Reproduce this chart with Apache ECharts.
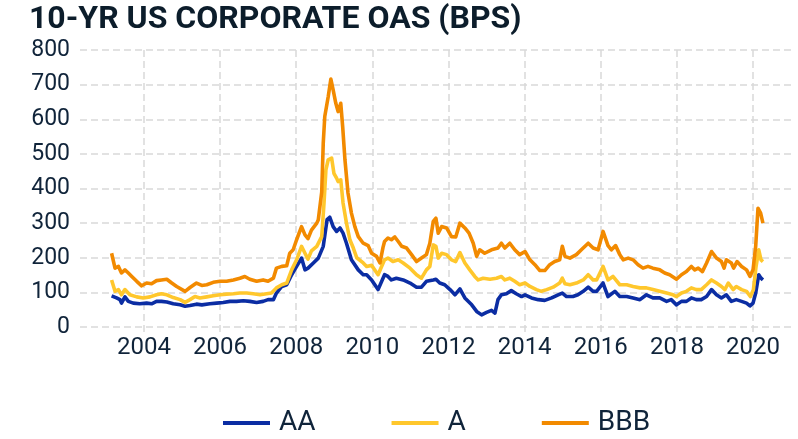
<!DOCTYPE html>
<html>
<head>
<meta charset="utf-8">
<title>10-YR US Corporate OAS</title>
<script src="https://cdn.jsdelivr.net/npm/echarts@6/dist/echarts.min.js"></script>
<style>
  html, body { margin: 0; padding: 0; background: #ffffff; }
  #chart { width: 798px; height: 439px; }
</style>
</head>
<body>
<div id="chart"></div>
<script>
// Option-adjusted spreads (bps) by rating bucket, [decimal year, spread]
const aaSeries = [
  [2003.15, 90], [2003.28, 84], [2003.37, 79], [2003.41, 69], [2003.50, 87], [2003.59, 74],
  [2003.72, 69], [2003.89, 67], [2004.07, 69], [2004.20, 67], [2004.33, 74], [2004.46, 74],
  [2004.60, 72], [2004.77, 67], [2004.95, 64], [2005.08, 60], [2005.21, 62], [2005.38, 66],
  [2005.52, 64], [2005.73, 67], [2005.91, 69], [2006.08, 71], [2006.26, 74], [2006.43, 74],
  [2006.61, 76], [2006.78, 74], [2006.96, 71], [2007.13, 74], [2007.26, 79], [2007.40, 79],
  [2007.48, 98], [2007.62, 117], [2007.75, 122], [2007.88, 151], [2008.01, 175], [2008.14, 199],
  [2008.23, 165], [2008.31, 170], [2008.45, 185], [2008.58, 199], [2008.71, 233], [2008.81, 310],
  [2008.88, 317], [2008.97, 290], [2009.06, 276], [2009.15, 286], [2009.23, 271], [2009.32, 242],
  [2009.45, 194], [2009.63, 165], [2009.76, 151], [2009.85, 151], [2009.98, 136], [2010.15, 108],
  [2010.20, 103], [2010.32, 151], [2010.41, 146], [2010.50, 136], [2010.63, 141], [2010.81, 136],
  [2010.99, 127], [2011.16, 115], [2011.29, 115], [2011.42, 132], [2011.60, 136], [2011.67, 138],
  [2011.77, 127], [2011.90, 122], [2012.04, 108], [2012.17, 93], [2012.30, 110], [2012.43, 84],
  [2012.61, 64], [2012.74, 45], [2012.87, 35], [2013.00, 42], [2013.13, 48], [2013.22, 40],
  [2013.30, 79], [2013.39, 93], [2013.52, 96], [2013.65, 105], [2013.78, 96], [2013.92, 88],
  [2014.01, 93], [2014.18, 84], [2014.36, 79], [2014.53, 77], [2014.71, 84], [2014.88, 93],
  [2014.99, 98], [2015.10, 88], [2015.27, 88], [2015.40, 93], [2015.54, 103], [2015.67, 115],
  [2015.80, 103], [2015.89, 103], [2016.06, 127], [2016.19, 88], [2016.37, 103], [2016.50, 88],
  [2016.68, 88], [2016.85, 84], [2017.03, 79], [2017.20, 93], [2017.37, 84], [2017.55, 84],
  [2017.73, 74], [2017.85, 79], [2017.99, 64], [2018.12, 74], [2018.25, 74], [2018.38, 84],
  [2018.51, 79], [2018.64, 79], [2018.78, 88], [2018.91, 108], [2019.04, 93], [2019.17, 84],
  [2019.30, 93], [2019.43, 74], [2019.56, 79], [2019.70, 74], [2019.83, 69], [2019.92, 61],
  [2020.00, 69], [2020.07, 98], [2020.15, 151], [2020.21, 141], [2020.26, 136]
];

const aSeries = [
  [2003.15, 136], [2003.24, 103], [2003.33, 108], [2003.41, 93], [2003.50, 108], [2003.63, 93],
  [2003.81, 87], [2003.98, 84], [2004.16, 87], [2004.33, 93], [2004.46, 96], [2004.60, 93],
  [2004.77, 85], [2004.95, 79], [2005.08, 71], [2005.21, 79], [2005.34, 88], [2005.47, 84],
  [2005.65, 87], [2005.82, 90], [2006.00, 93], [2006.17, 95], [2006.35, 96], [2006.52, 98],
  [2006.70, 98], [2006.87, 96], [2007.05, 93], [2007.22, 96], [2007.35, 98], [2007.48, 113],
  [2007.62, 122], [2007.75, 127], [2007.88, 165], [2008.01, 194], [2008.14, 233], [2008.23, 213],
  [2008.31, 196], [2008.40, 220], [2008.54, 233], [2008.67, 261], [2008.73, 358], [2008.78, 454],
  [2008.84, 483], [2008.93, 488], [2008.99, 444], [2009.06, 430], [2009.10, 420], [2009.17, 425],
  [2009.23, 358], [2009.32, 300], [2009.41, 252], [2009.50, 228], [2009.59, 200], [2009.76, 185],
  [2009.85, 175], [2009.98, 178], [2010.15, 151], [2010.20, 146], [2010.32, 194], [2010.41, 199],
  [2010.54, 189], [2010.68, 194], [2010.81, 185], [2010.99, 170], [2011.16, 151], [2011.29, 141],
  [2011.42, 165], [2011.51, 175], [2011.60, 237], [2011.67, 233], [2011.73, 199], [2011.82, 213],
  [2011.95, 209], [2012.08, 194], [2012.19, 189], [2012.30, 215], [2012.43, 185], [2012.56, 165],
  [2012.69, 146], [2012.78, 136], [2012.91, 141], [2013.09, 138], [2013.26, 141], [2013.39, 146],
  [2013.48, 136], [2013.61, 141], [2013.74, 132], [2013.87, 122], [2014.01, 127], [2014.14, 117],
  [2014.31, 108], [2014.44, 103], [2014.58, 108], [2014.75, 115], [2014.92, 127], [2014.99, 141],
  [2015.06, 125], [2015.19, 122], [2015.36, 127], [2015.54, 136], [2015.67, 151], [2015.80, 136],
  [2015.89, 136], [2016.06, 175], [2016.19, 136], [2016.32, 146], [2016.50, 122], [2016.68, 122],
  [2016.85, 117], [2017.03, 113], [2017.20, 113], [2017.37, 108], [2017.55, 103], [2017.73, 98],
  [2017.90, 93], [2017.99, 88], [2018.12, 98], [2018.25, 103], [2018.38, 113], [2018.51, 108],
  [2018.64, 108], [2018.78, 122], [2018.91, 136], [2019.04, 127], [2019.17, 117], [2019.26, 108],
  [2019.35, 127], [2019.48, 108], [2019.56, 117], [2019.70, 108], [2019.83, 103], [2019.93, 88],
  [2020.01, 108], [2020.08, 175], [2020.15, 223], [2020.21, 194], [2020.26, 189]
];

const bbbSeries = [
  [2003.15, 213], [2003.24, 170], [2003.33, 175], [2003.41, 156], [2003.50, 165], [2003.59, 156],
  [2003.68, 146], [2003.81, 132], [2003.94, 119], [2004.07, 127], [2004.20, 125], [2004.33, 134],
  [2004.46, 136], [2004.60, 138], [2004.73, 127], [2004.86, 117], [2005.08, 103], [2005.21, 114],
  [2005.38, 127], [2005.52, 120], [2005.65, 122], [2005.82, 129], [2006.00, 132], [2006.17, 132],
  [2006.35, 136], [2006.52, 141], [2006.65, 146], [2006.78, 138], [2006.96, 132], [2007.13, 136],
  [2007.26, 132], [2007.40, 141], [2007.48, 170], [2007.62, 175], [2007.75, 177], [2007.83, 213],
  [2007.92, 223], [2008.01, 252], [2008.14, 290], [2008.23, 266], [2008.31, 255], [2008.40, 280],
  [2008.54, 300], [2008.58, 310], [2008.67, 390], [2008.71, 531], [2008.75, 608], [2008.84, 665],
  [2008.91, 716], [2008.97, 685], [2009.04, 646], [2009.10, 622], [2009.17, 646], [2009.22, 579],
  [2009.28, 483], [2009.36, 387], [2009.45, 329], [2009.54, 290], [2009.63, 261], [2009.76, 242],
  [2009.89, 235], [2009.98, 213], [2010.11, 204], [2010.20, 185], [2010.28, 230], [2010.32, 247],
  [2010.41, 257], [2010.50, 252], [2010.59, 260], [2010.68, 247], [2010.77, 233], [2010.90, 228],
  [2011.03, 209], [2011.16, 189], [2011.29, 199], [2011.42, 209], [2011.51, 242], [2011.60, 305],
  [2011.67, 314], [2011.73, 271], [2011.82, 290], [2011.95, 286], [2012.08, 261], [2012.19, 260],
  [2012.30, 300], [2012.43, 286], [2012.54, 271], [2012.65, 242], [2012.74, 204], [2012.82, 223],
  [2012.95, 213], [2013.13, 223], [2013.30, 228], [2013.39, 242], [2013.48, 228], [2013.61, 242],
  [2013.74, 223], [2013.87, 209], [2014.01, 218], [2014.14, 194], [2014.27, 180], [2014.40, 163],
  [2014.53, 163], [2014.66, 180], [2014.79, 189], [2014.92, 194], [2014.99, 233], [2015.06, 204],
  [2015.19, 199], [2015.36, 209], [2015.49, 223], [2015.67, 242], [2015.80, 228], [2015.93, 223],
  [2016.06, 276], [2016.19, 235], [2016.28, 223], [2016.39, 235], [2016.50, 209], [2016.59, 194],
  [2016.72, 199], [2016.85, 194], [2016.98, 180], [2017.11, 170], [2017.24, 175], [2017.37, 170],
  [2017.55, 165], [2017.68, 156], [2017.81, 151], [2017.99, 138], [2018.12, 151], [2018.25, 160],
  [2018.38, 175], [2018.47, 165], [2018.56, 170], [2018.67, 160], [2018.78, 185], [2018.91, 218],
  [2019.04, 199], [2019.17, 189], [2019.24, 170], [2019.30, 194], [2019.43, 185], [2019.49, 170],
  [2019.58, 189], [2019.70, 175], [2019.83, 165], [2019.92, 146], [2020.00, 165], [2020.07, 233],
  [2020.13, 343], [2020.20, 329], [2020.26, 300]
];

const yearTicks = [2004, 2006, 2008, 2010, 2012, 2014, 2016, 2018, 2020];
const seriesNames = ['AA', 'A', 'BBB'];
const seriesColors = ['#0b2da3', '#ffc72c', '#f28a00'];

const textColor = '#10243a';
const gridColor = '#d9d9d9';
const font = 'Roboto, "Noto Sans", sans-serif';

const chart = echarts.init(document.getElementById('chart'), null, { renderer: 'canvas' });

const lineSeries = [aaSeries, aSeries, bbbSeries].map((data, i) => ({
  name: seriesNames[i],
  type: 'line',
  data: data,
  showSymbol: false,
  symbol: 'none',
  smooth: false,
  lineStyle: { color: seriesColors[i], width: 3.6, join: 'round' },
  itemStyle: { color: seriesColors[i] },
  z: 3 + i,
  animation: false
}));

chart.setOption({
  animation: false,
  backgroundColor: '#ffffff',
  title: {
    text: '10-YR US CORPORATE OAS (BPS)',
    left: 24,
    top: -1,
    textStyle: { fontFamily: font, fontSize: 32, fontWeight: 'bold', color: '#0c1d2b' }
  },
  legend: {
    data: seriesNames,
    left: 218,
    top: 404,
    icon: 'rect',
    itemWidth: 47,
    itemHeight: 4,
    itemGap: 76,
    textStyle: { fontFamily: font, fontSize: 28, color: textColor, padding: [0, 0, 0, 4] }
  },
  grid: { left: 80, right: 5, top: 50, bottom: 112, containLabel: false },
  xAxis: {
    type: 'value',
    min: 2002.32,
    max: 2021.05,
    axisLine: { show: false },
    axisTick: {
      show: true,
      customValues: yearTicks,
      length: 5,
      lineStyle: { color: gridColor, width: 1.5 }
    },
    axisLabel: {
      customValues: yearTicks,
      formatter: v => String(v),
      fontFamily: font,
      fontSize: 24,
      color: textColor,
      margin: 9
    },
    splitLine: {
      show: true,
      lineStyle: { color: gridColor, width: 1.5, type: [7, 4] }
    }
  },
  yAxis: {
    type: 'value',
    min: 0,
    max: 800,
    interval: 100,
    axisLine: { show: false },
    axisTick: { show: false },
    axisLabel: { fontFamily: font, fontSize: 23, color: textColor, margin: 10 },
    splitLine: { show: true, lineStyle: { color: gridColor, width: 1.5, type: [7, 4] } }
  },
  series: lineSeries
});
</script>
</body>
</html>
